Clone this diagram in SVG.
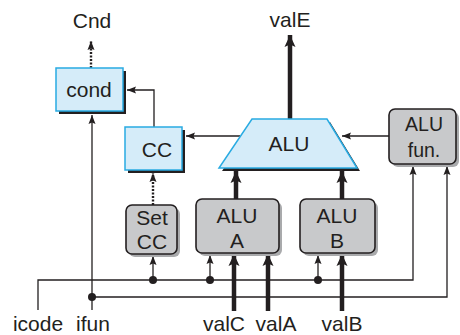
<svg xmlns="http://www.w3.org/2000/svg" width="460" height="335" viewBox="0 0 460 335">
<defs>
<style>
text{font-family:"Liberation Sans",Arial,sans-serif;font-size:21px;fill:#231f20;text-anchor:middle}
.thin{fill:none;stroke:#231f20;stroke-width:1.3}
.thick{fill:none;stroke:#231f20;stroke-width:4.5}
.dot{fill:none;stroke:#231f20;stroke-width:2.4;stroke-dasharray:2,1.5}
.blue{fill:#d5ecf9;stroke:#29abe2;stroke-width:1.5}
.bshadow{fill:#231f20}
.gray{fill:#c8c9cb;stroke:#231f20;stroke-width:1.6}
.gshadow{fill:#a9aaac}
.jd{fill:#231f20}
</style>
<marker id="ah" markerUnits="userSpaceOnUse" markerWidth="10" markerHeight="8" refX="9" refY="4" orient="auto"><path d="M0,0.5 L9,4 L0,7.5 L1.5,4 z" fill="#231f20"/></marker>
<marker id="ahk" markerUnits="userSpaceOnUse" markerWidth="13" markerHeight="12" refX="12" refY="6" orient="auto"><path d="M0,0.5 L12,6 L0,11.5 L2.5,6 z" fill="#231f20"/></marker>
</defs>

<g id="connectors">
<path class="dot" d="M91,68 V41" marker-end="url(#ah)"/>
<path class="thin" d="M154,127 V90 H127" marker-end="url(#ah)"/>
<path class="thin" d="M92,310 V115" marker-end="url(#ah)"/>
<path class="thin" d="M240,136 H186" marker-end="url(#ah)"/>
<path class="thin" d="M389,136 H342" marker-end="url(#ah)"/>
<path class="thin" d="M38,310 V280 H413 V166" marker-end="url(#ah)"/>
<path class="thin" d="M92,297 H447 V166" marker-end="url(#ah)"/>
<path class="thin" d="M153,280 V256" marker-end="url(#ah)"/>
<path class="thin" d="M210,280 V255" marker-end="url(#ah)"/>
<path class="thin" d="M318,280 V255" marker-end="url(#ah)"/>
<path class="dot" d="M153,205 V173" marker-end="url(#ah)"/>
<path class="thick" d="M290,119 V35" marker-end="url(#ahk)"/>
<path class="thick" d="M236,199 V171" marker-end="url(#ahk)"/>
<path class="thick" d="M342,199 V171" marker-end="url(#ahk)"/>
<path class="thick" d="M234,311 V254" marker-end="url(#ahk)"/>
<path class="thick" d="M268,311 V254" marker-end="url(#ahk)"/>
<path class="thick" d="M342,311 V254" marker-end="url(#ahk)"/>
<circle class="jd" cx="153" cy="280" r="4"/>
<circle class="jd" cx="210" cy="280" r="4"/>
<circle class="jd" cx="318" cy="280" r="4"/>
<circle class="jd" cx="92" cy="297" r="4"/>
</g>

<g id="cond">
<rect class="bshadow" x="59" y="71" width="67" height="43"/>
<rect class="blue" x="56" y="68" width="67" height="43"/>
<text x="89" y="97">cond</text>
</g>
<g id="cc">
<rect class="bshadow" x="128" y="130" width="57" height="43"/>
<rect class="blue" x="125" y="127" width="57" height="43"/>
<text x="157" y="157">CC</text>
</g>
<g id="alu">
<polygon class="bshadow" points="255,122 330,122 360,171 222,171"/>
<polygon class="blue" points="252,119 327,119 357,168 219,168"/>
<text x="289" y="151">ALU</text>
</g>
<g id="alufun">
<rect class="gshadow" x="392" y="112" width="67" height="55" rx="6"/>
<rect class="gray" x="389" y="109" width="67" height="55" rx="6"/>
<text x="424" y="131" style="font-size:19.5px">ALU</text>
<text x="424" y="157" style="font-size:19.5px">fun.</text>
</g>
<g id="setcc">
<rect class="gshadow" x="129" y="208" width="51" height="49" rx="6"/>
<rect class="gray" x="126" y="205" width="51" height="49" rx="6"/>
<text x="152" y="225">Set</text>
<text x="152" y="249">CC</text>
</g>
<g id="alua">
<rect class="gshadow" x="199" y="202" width="83" height="54" rx="6"/>
<rect class="gray" x="196" y="199" width="83" height="54" rx="6"/>
<text x="237" y="223">ALU</text>
<text x="237" y="248">A</text>
</g>
<g id="alub">
<rect class="gshadow" x="303" y="202" width="75" height="54" rx="6"/>
<rect class="gray" x="300" y="199" width="75" height="54" rx="6"/>
<text x="337" y="223">ALU</text>
<text x="337" y="248">B</text>
</g>

<g id="labels">
<text x="92" y="28">Cnd</text>
<text x="290" y="27">valE</text>
<text x="38" y="331">icode</text>
<text x="93" y="331">ifun</text>
<text x="224" y="331">valC</text>
<text x="276" y="331">valA</text>
<text x="342" y="331">valB</text>
</g>
</svg>
